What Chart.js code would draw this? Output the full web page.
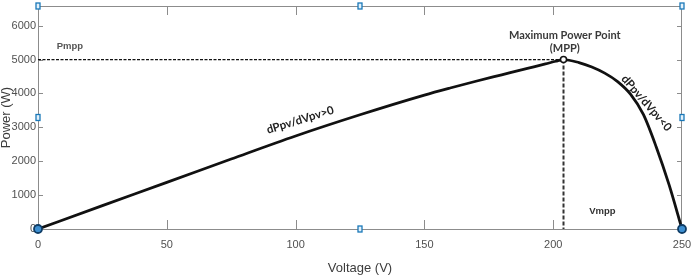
<!DOCTYPE html>
<html>
<head>
<meta charset="utf-8">
<script src="https://cdn.jsdelivr.net/npm/chart.js@4.4.1/dist/chart.umd.min.js"></script>
<style>
  html, body { margin: 0; padding: 0; background: #fff; }
</style>
</head>
<body>
<canvas id="pvChart" width="692" height="280"></canvas>
<script>
// P-V curve
const voltage = [0, 25, 50, 75, 100, 125, 150, 160, 170, 180, 190, 197, 201, 204, 210, 215, 220, 225, 230, 235, 240, 245, 250];
const power   = [0, 690, 1375, 2065, 2745, 3370, 3950, 4160, 4360, 4550, 4740, 4870, 4950, 5000, 4910, 4780, 4600, 4350, 3980, 3380, 2420, 1300, 0];

const xTicks = [0, 50, 100, 150, 200, 250];
const yTicks = [0, 1000, 2000, 3000, 4000, 5000, 6000];

const vmpp = 204;
const pmpp = 5000;
const endVoltages = [0, 250];

// annotation texts and where they sit (data units)
const noteText = ['Pmpp', 'Maximum Power Point', '(MPP)', 'dPpv/dVpv>0', 'dPpv/dVpv<0', 'Vmpp'];
const noteV = [12.4, 204.5, 204.5, 101.8, 236.2, 219.1];
const noteP = [5380, 5722, 5322, 3216, 3713, 526];

const pts = voltage.map((v, i) => ({ x: v, y: power[i] }));

const noteStyle = [
  { font: 'bold 9.5px "Liberation Sans"', color: '#555', angle: 0 },
  { font: 'bold 11px Lato', color: '#3a3a3a', angle: 0 },
  { font: 'bold 11px Lato', color: '#3a3a3a', angle: 0 },
  { font: 'bold 11.5px Lato', color: '#222', angle: -17 },
  { font: 'bold 11.5px Lato', color: '#222', angle: 49 },
  { font: 'bold 9.5px "Liberation Sans"', color: '#333', angle: 0 }
];

const frame = {
  id: 'frame',
  beforeDatasetsDraw(chart) {
    const { ctx, chartArea: a, scales: { x, y } } = chart;
    ctx.save();
    ctx.strokeStyle = '#8c8c8c';
    ctx.lineWidth = 1;
    ctx.strokeRect(a.left + 0.5, a.top + 0.5, a.right - a.left - 1, a.bottom - a.top);
    ctx.beginPath();
    xTicks.slice(1, -1).forEach(v => {
      const px = Math.round(x.getPixelForValue(v)) + 0.5;
      ctx.moveTo(px, a.bottom); ctx.lineTo(px, a.bottom - 9);
      ctx.moveTo(px, a.top); ctx.lineTo(px, a.top + 9);
    });
    yTicks.slice(1).forEach(v => {
      const py = Math.round(y.getPixelForValue(v)) + 0.5;
      ctx.moveTo(a.left, py); ctx.lineTo(a.left + 5, py);
      ctx.moveTo(a.right, py); ctx.lineTo(a.right - 5, py);
    });
    ctx.stroke();
    ctx.restore();
  },
  afterDraw(chart) {
    const { ctx, chartArea: a, scales: { x, y } } = chart;
    ctx.save();
    noteText.forEach((t, i) => {
      const s = noteStyle[i];
      ctx.save();
      ctx.translate(x.getPixelForValue(noteV[i]), y.getPixelForValue(noteP[i]));
      ctx.rotate(s.angle * Math.PI / 180);
      ctx.font = s.font;
      ctx.fillStyle = s.color;
      ctx.textAlign = 'center';
      ctx.textBaseline = 'middle';
      ctx.fillText(t, 0, 0);
      ctx.restore();
    });
    // figure selection handles
    const mx = (a.left + a.right) / 2, my = (a.top + a.bottom) / 2;
    [[a.left, a.top], [mx, a.top], [a.right, a.top], [a.left, my], [a.right, my], [mx, a.bottom]].forEach(([hx, hy]) => {
      ctx.fillStyle = '#e3f1fb';
      ctx.strokeStyle = '#1a78b8';
      ctx.lineWidth = 1.3;
      ctx.fillRect(hx - 2, hy - 3, 4, 6);
      ctx.strokeRect(hx - 2, hy - 3, 4, 6);
    });
    ctx.restore();
  }
};

const tickFont = { family: '"Liberation Sans", Arial', size: 11 };
const titleFont = { family: '"Liberation Sans", Arial', size: 13, lineHeight: 1 };

new Chart(document.getElementById('pvChart'), {
  type: 'scatter',
  data: {
    datasets: [
      {
        data: [{ x: 0, y: pmpp }, { x: vmpp, y: pmpp }],
        showLine: true, borderColor: '#111', borderWidth: 1.3, borderDash: [3, 1.5],
        pointRadius: 0, order: 4
      },
      {
        data: [{ x: vmpp, y: pmpp }, { x: vmpp, y: 0 }],
        showLine: true, borderColor: '#333', borderWidth: 2, borderDash: [4, 2],
        pointRadius: 0, order: 3
      },
      {
        data: pts,
        showLine: true, borderColor: '#111', borderWidth: 2.8,
        cubicInterpolationMode: 'monotone', pointRadius: 0, order: 2
      },
      {
        data: [{ x: vmpp, y: pmpp }],
        pointRadius: 3, pointBorderWidth: 1.5, pointBorderColor: '#111', pointBackgroundColor: '#fff',
        clip: false, order: 1
      },
      {
        data: endVoltages.map(v => ({ x: v, y: 0 })),
        pointRadius: 4, pointBorderWidth: 1.8, pointBorderColor: '#0f3d66', pointBackgroundColor: '#3d8fd1',
        clip: false, order: 0
      }
    ]
  },
  options: {
    responsive: false,
    animation: false,
    events: [],
    layout: { padding: { top: 6, right: 10, left: 0, bottom: 0 } },
    plugins: { legend: { display: false }, tooltip: { enabled: false } },
    scales: {
      x: {
        type: 'linear', min: 0, max: 250,
        afterBuildTicks: s => { s.ticks = xTicks.map(v => ({ value: v })); },
        afterFit: s => { s.height = 51; s.paddingLeft = 0; s.paddingRight = 0; },
        grid: { display: false, drawTicks: false },
        border: { display: false },
        ticks: { padding: 9, color: '#505050', font: tickFont, maxRotation: 0 },
        title: { display: true, text: 'Voltage (V)', color: '#3c3c3c', font: titleFont, padding: { top: 0, bottom: 5 } }
      },
      y: {
        type: 'linear', min: 0, max: 6580,
        afterBuildTicks: s => { s.ticks = yTicks.map(v => ({ value: v })); },
        afterFit: s => { s.width = 38; s.paddingTop = 0; s.paddingBottom = 0; },
        grid: { display: false, drawTicks: false },
        border: { display: false },
        ticks: { padding: 2, color: '#505050', font: tickFont, callback: v => String(v) },
        title: { display: true, text: 'Power (W)', color: '#3c3c3c', font: titleFont, padding: { top: 0, bottom: 0 } }
      }
    }
  },
  plugins: [frame]
});
</script>
</body>
</html>
